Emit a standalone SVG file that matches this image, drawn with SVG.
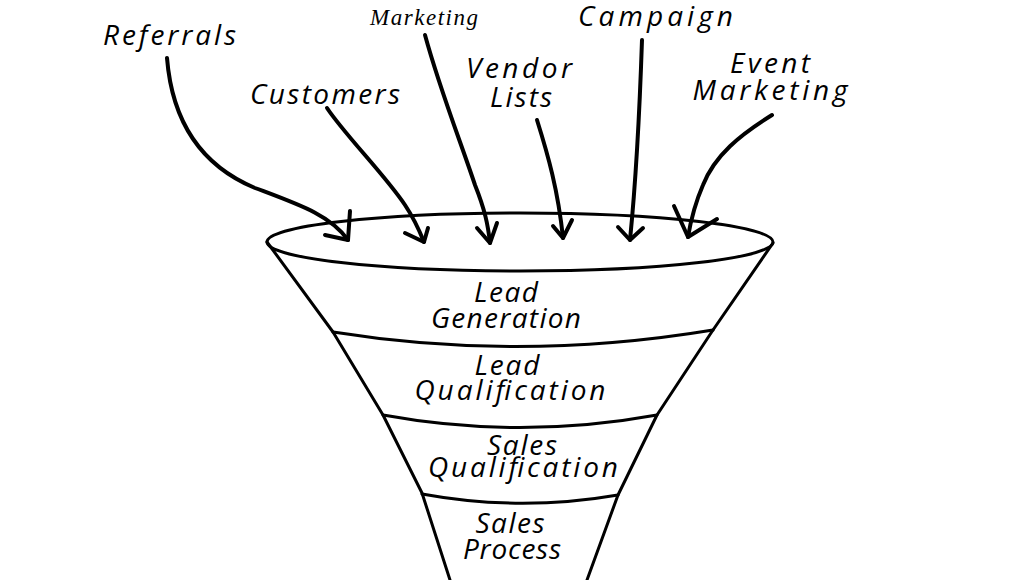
<svg xmlns="http://www.w3.org/2000/svg" width="1024" height="580" viewBox="0 0 1024 580">
<style>
.ln{fill:none;stroke:#000;stroke-width:3;stroke-linecap:round;stroke-linejoin:round}
.ar{fill:none;stroke:#000;stroke-width:4;stroke-linecap:round;stroke-linejoin:round}
.hw{font-family:"Open Sans","DejaVu Sans",sans-serif;font-style:italic;font-size:28px;fill:#000}
.sf{font-family:"Liberation Serif","Times New Roman",serif;font-style:italic;font-size:23px;fill:#000}
</style>
<rect width="1024" height="580" fill="#fff"/>
<g id="funnel">
<ellipse class="ln" cx="520" cy="242" rx="253" ry="29"/>
<path class="ln" d="M267,242 L333,332 L383,415 L422,493 L450,580"/>
<path class="ln" d="M773,243 L713,330 L657,415 L618,495 L587,580"/>
</g>
<g id="lead-generation">
<path class="ln" d="M333,332 Q520,362 713,330"/>
<text class="hw" x="506" y="302" text-anchor="middle" textLength="64">Lead</text>
<text class="hw" x="506" y="328" text-anchor="middle" textLength="150">Generation</text>
</g>
<g id="lead-qualification">
<path class="ln" d="M383,415 Q520,440 657,415"/>
<text class="hw" x="507" y="375" text-anchor="middle" textLength="65">Lead</text>
<text class="hw" x="510" y="400" text-anchor="middle" textLength="191">Qualification</text>
</g>
<g id="sales-qualification">
<path class="ln" d="M422,494 Q520,512 618,495"/>
<text class="hw" x="522" y="455" text-anchor="middle" textLength="70">Sales</text>
<text class="hw" x="523" y="477" text-anchor="middle" textLength="190">Qualification</text>
</g>
<g id="sales-process">
<text class="hw" x="510" y="533" text-anchor="middle" textLength="69">Sales</text>
<text class="hw" x="512" y="559" text-anchor="middle" textLength="98">Process</text>
</g>
<g id="referrals"><text class="hw" x="103" y="45" textLength="133">Referrals</text></g>
<g id="customers"><text class="hw" x="250" y="104" textLength="150">Customers</text></g>
<g id="marketing"><text class="sf" x="370" y="25" textLength="108">Marketing</text></g>
<g id="campaign"><text class="hw" x="578" y="26" textLength="155">Campaign</text></g>
<g id="vendor-lists">
<text class="hw" x="519" y="78" text-anchor="middle" textLength="106">Vendor</text>
<text class="hw" x="521" y="107" text-anchor="middle" textLength="62">Lists</text>
</g>
<g id="event-marketing">
<text class="hw" x="770" y="73" text-anchor="middle" textLength="80">Event</text>
<text class="hw" x="770" y="100" text-anchor="middle" textLength="155">Marketing</text>
</g>
<g id="connectors">
<path class="ar" d="M167,58 C172,120 200,165 255,188 C300,205 330,215 348,240"/>
<path class="ar" d="M350,211 L348,240 L325,235"/>
<path class="ar" d="M327,108 C345,135 385,175 405,205 C415,220 420,232 424,242"/>
<path class="ar" d="M405,233 L424,242 L428,228"/>
<path class="ar" d="M425,35 C440,90 460,140 475,185 C485,210 488,225 490,243"/>
<path class="ar" d="M477,228 L490,243 L497,223"/>
<path class="ar" d="M537,120 C548,155 558,190 563,238"/>
<path class="ar" d="M553,226 L563,238 L572,220"/>
<path class="ar" d="M642,40 C640,100 637,170 630,240"/>
<path class="ar" d="M618,227 L630,240 L643,228"/>
<path class="ar" d="M772,115 C740,135 715,155 703,185 C693,208 690,225 688,237"/>
<path class="ar" d="M674,206 L688,237 L717,219"/>
</g>
</svg>
